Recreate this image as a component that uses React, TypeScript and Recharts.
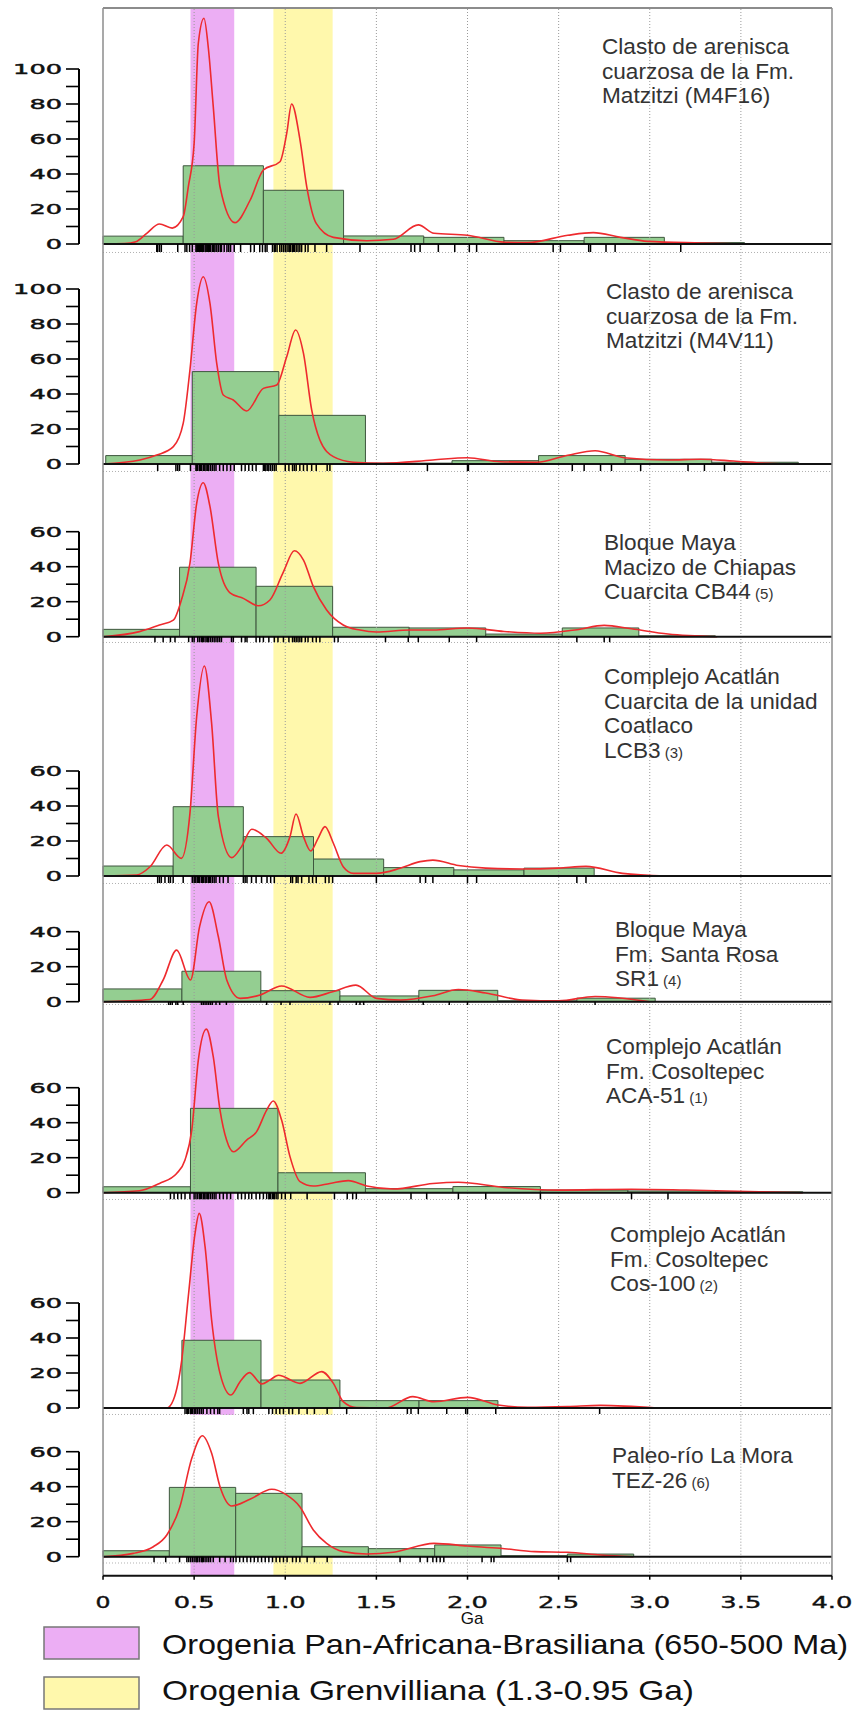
import React from "react";
import {
  ComposedChart, XAxis, YAxis, Line, Scatter, ReferenceArea, ReferenceLine,
} from "recharts";

// ---------- data (Ga / counts) ----------
const M4F16_EDGES = [0, 0.44, 0.88, 1.32, 1.76, 2.2, 2.64, 3.08, 3.52];
const M4F16_COUNTS = [4.5, 44.7, 30.7, 4.6, 3.8, 1.9, 3.8, 0.8];
const M4F16_KDE = [
  [0, 0], [0.12, 0.2], [0.18, 1.3], [0.24, 6.1], [0.31, 11.4], [0.38, 9.1], [0.44, 15.6],
  [0.468, 32.7], [0.5, 57.5], [0.523, 114.7], [0.554, 129], [0.578, 112], [0.605, 78.5],
  [0.642, 32.7], [0.724, 12.2], [0.807, 25], [0.88, 42.3], [0.971, 47], [1.008, 63.2],
  [1.035, 80], [1.081, 59.4], [1.118, 32.7], [1.17, 11.8], [1.264, 3.8], [1.447, 1.9],
  [1.593, 2.7], [1.73, 10.9], [1.816, 6.1], [2.0, 5], [2.205, 1], [2.33, 0.8], [2.55, 5],
  [2.69, 6.5], [2.84, 3.8], [2.99, 1.5], [3.28, 0.6], [3.53, 0],
];
const M4F16_AGES = [
  0.295, 0.3, 0.31, 0.32, 0.41, 0.45, 0.46, 0.475, 0.49, 0.51, 0.515, 0.52, 0.525, 0.53, 0.535,
  0.54, 0.545, 0.55, 0.56, 0.565, 0.57, 0.575, 0.58, 0.585, 0.59, 0.6, 0.605, 0.61, 0.62, 0.625,
  0.635, 0.645, 0.65, 0.665, 0.68, 0.69, 0.7, 0.72, 0.755, 0.81, 0.83, 0.86, 0.875, 0.89, 0.9,
  0.93, 0.94, 0.945, 0.955, 0.97, 0.98, 0.99, 1.0, 1.01, 1.02, 1.025, 1.03, 1.04, 1.045, 1.05,
  1.06, 1.07, 1.08, 1.09, 1.11, 1.125, 1.163, 1.227, 1.41, 1.69, 1.71, 1.74, 1.84, 1.93, 2.01,
  2.05, 2.47, 2.51, 2.665, 2.675, 2.76, 2.81, 3.17,
];

const M4V11_EDGES = [0.015, 0.49, 0.965, 1.44, 1.915, 2.39, 2.865, 3.34, 3.815];
const M4V11_COUNTS = [4.8, 52.8, 27.8, 0.5, 1.9, 4.8, 2.7, 1.0];
const M4V11_KDE = [
  [0, 0], [0.203, 2.3], [0.295, 5.1], [0.386, 9.9], [0.44, 23.2], [0.477, 53.7], [0.514, 91.8],
  [0.55, 107], [0.587, 91.8], [0.624, 57.5], [0.66, 39.4], [0.715, 36.6], [0.788, 30.3],
  [0.88, 43.2], [0.953, 45.1], [1.008, 61.3], [1.057, 76.6], [1.1, 63.2], [1.145, 30.9],
  [1.19, 13.7], [1.264, 4.2], [1.373, 1], [1.536, 0.4], [1.81, 2.3], [2.0, 3.6], [2.18, 1.3],
  [2.38, 1], [2.55, 5], [2.7, 7.6], [2.86, 3.6], [3.1, 2.3], [3.28, 2.7], [3.46, 1.7],
  [3.645, 0.4], [3.81, 0],
];
const M4V11_AGES = [
  0.3, 0.4, 0.41, 0.42, 0.48, 0.51, 0.515, 0.52, 0.53, 0.535, 0.54, 0.55, 0.555, 0.56, 0.57,
  0.575, 0.58, 0.59, 0.6, 0.61, 0.62, 0.64, 0.66, 0.68, 0.7, 0.72, 0.76, 0.78, 0.8, 0.82, 0.84,
  0.88, 0.885, 0.89, 0.9, 0.905, 0.91, 0.92, 0.93, 0.94, 0.95, 1.0, 1.02, 1.04, 1.05, 1.06,
  1.08, 1.1, 1.12, 1.145, 1.17, 1.23, 1.245, 1.78, 2.0, 2.005, 2.575, 2.64, 2.73, 2.79, 2.95,
  3.21, 3.3, 3.41,
];

const CB44_EDGES = [0, 0.42, 0.84, 1.26, 1.68, 2.1, 2.52, 2.94, 3.36];
const CB44_COUNTS = [4.2, 39.7, 28.8, 5.4, 5.0, 1.5, 5.0, 0.5];
const CB44_KDE = [
  [0, 0], [0.2, 2.9], [0.31, 6.7], [0.386, 9.5], [0.43, 21], [0.477, 41.9], [0.514, 76.2],
  [0.55, 88], [0.587, 74.3], [0.633, 41.9], [0.697, 25.1], [0.77, 21.9], [0.852, 17.7],
  [0.916, 21], [0.99, 37.1], [1.05, 49.1], [1.1, 43.8], [1.154, 28.6], [1.227, 15.3],
  [1.318, 6.7], [1.41, 3.8], [1.5, 2.7], [1.684, 3.8], [1.81, 3.8], [2.0, 5], [2.2, 3],
  [2.4, 2], [2.6, 4], [2.75, 6.5], [2.9, 4.5], [3.1, 1.5], [3.37, 0],
];
const CB44_AGES = [
  0.285, 0.33, 0.37, 0.395, 0.47, 0.49, 0.5, 0.52, 0.53, 0.54, 0.545, 0.55, 0.56, 0.57, 0.575,
  0.58, 0.59, 0.6, 0.61, 0.62, 0.63, 0.64, 0.65, 0.705, 0.715, 0.76, 0.78, 0.79, 0.84, 0.86,
  0.88, 0.91, 0.94, 0.96, 0.99, 1.02, 1.04, 1.05, 1.06, 1.07, 1.08, 1.09, 1.11, 1.125, 1.15,
  1.17, 1.19, 1.27, 1.29, 1.55, 1.675, 1.73, 1.9, 2.05, 2.6, 2.75, 2.78,
];

const LCB3_EDGES = [0, 0.385, 0.77, 1.155, 1.54, 1.925, 2.31, 2.695];
const LCB3_COUNTS = [5.7, 39.6, 22.5, 9.7, 4.8, 3.5, 4.5];
const LCB3_KDE = [
  [0, 0], [0.185, 0.6], [0.258, 5.3], [0.35, 17.7], [0.43, 10.1], [0.477, 35.8], [0.514, 91],
  [0.556, 120], [0.596, 87.2], [0.633, 33.9], [0.706, 10.5], [0.76, 16.8], [0.816, 26.7],
  [0.898, 21.5], [0.977, 13], [1.026, 22.5], [1.059, 35.4], [1.1, 22.5], [1.14, 14.3],
  [1.18, 21.5], [1.218, 28.2], [1.264, 18.7], [1.318, 5.3], [1.374, 1.5], [1.5, 1.5],
  [1.63, 4.4], [1.74, 8.2], [1.81, 9.1], [1.95, 6], [2.1, 4.5], [2.3, 4], [2.5, 4.5],
  [2.65, 5.5], [2.85, 1.5], [3.09, 0],
];
const LCB3_AGES = [
  0.3, 0.31, 0.32, 0.34, 0.36, 0.37, 0.385, 0.44, 0.49, 0.5, 0.505, 0.51, 0.52, 0.525, 0.53,
  0.54, 0.545, 0.55, 0.56, 0.565, 0.57, 0.58, 0.585, 0.59, 0.6, 0.61, 0.62, 0.64, 0.66, 0.686,
  0.77, 0.78, 0.79, 0.815, 0.84, 0.87, 0.9, 0.92, 0.94, 1.03, 1.04, 1.06, 1.07, 1.09, 1.13,
  1.15, 1.17, 1.22, 1.24, 1.26, 1.5, 1.74, 1.77, 1.81, 2.0, 2.05, 2.6, 2.65,
];

const SR1_EDGES = [0, 0.433, 0.866, 1.3, 1.733, 2.166, 2.6, 3.03];
const SR1_COUNTS = [7.3, 17.4, 6.3, 3.3, 6.5, 0.5, 2];
const SR1_KDE = [
  [0, 0], [0.258, 1.3], [0.33, 12.4], [0.404, 29.5], [0.48, 12.4], [0.53, 42.9], [0.582, 57.1],
  [0.633, 37.1], [0.679, 12.4], [0.752, 1.9], [0.862, 3.8], [0.98, 9], [1.136, 2.5],
  [1.26, 5.7], [1.388, 9.5], [1.5, 1.9], [1.63, 1], [1.81, 3.4], [1.95, 7], [2.1, 5],
  [2.3, 1], [2.5, 0.5], [2.7, 3], [3.0, 0],
];
const SR1_AGES = [
  0.36, 0.37, 0.38, 0.4, 0.41, 0.44, 0.54, 0.55, 0.56, 0.57, 0.58, 0.59, 0.6, 0.62, 0.64,
  0.677, 0.898, 0.977, 1.026, 1.245, 1.29, 1.39, 1.41, 1.43, 1.757, 1.9, 2.0, 2.7,
];

const ACA51_EDGES = [0, 0.48, 0.96, 1.44, 1.92, 2.4, 2.88, 3.36, 3.84];
const ACA51_COUNTS = [3.4, 48.2, 11.4, 2.3, 3.5, 1.5, 1, 0.5];
const ACA51_KDE = [
  [0, 0], [0.2, 1.1], [0.31, 5.3], [0.404, 11], [0.45, 18.7], [0.487, 35.8], [0.523, 75.8],
  [0.567, 93.5], [0.605, 77.7], [0.642, 47.2], [0.678, 30.1], [0.715, 23.4], [0.788, 30.1],
  [0.843, 34.9], [0.898, 47.2], [0.934, 52.4], [0.98, 41.5], [1.026, 20.6], [1.081, 6.3],
  [1.154, 3.8], [1.245, 5.3], [1.346, 6.9], [1.447, 3.8], [1.593, 2.1], [1.81, 5.3],
  [1.95, 6], [2.2, 3], [2.5, 1.5], [2.9, 2], [3.2, 1.5], [3.6, 0.5], [3.84, 0],
];
const ACA51_AGES = [
  0.37, 0.39, 0.41, 0.43, 0.45, 0.477, 0.5, 0.51, 0.52, 0.53, 0.535, 0.54, 0.55, 0.555, 0.56,
  0.57, 0.575, 0.58, 0.59, 0.6, 0.61, 0.62, 0.64, 0.66, 0.68, 0.7, 0.74, 0.76, 0.78, 0.8,
  0.816, 0.84, 0.86, 0.88, 0.898, 0.91, 0.915, 0.92, 0.93, 0.935, 0.94, 0.95, 0.96, 0.98, 1.0,
  1.03, 1.12, 1.27, 1.34, 1.37, 1.39, 1.69, 1.776, 1.95, 2.1, 2.4, 2.9, 3.1,
];

const COS100_EDGES = [0.433, 0.867, 1.3, 1.734, 2.167];
const COS100_COUNTS = [38.7, 16, 4.2, 4.2];
const COS100_KDE = [
  [0, 0], [0.35, 0], [0.386, 4.6], [0.432, 27.4], [0.468, 63.6], [0.505, 99.8], [0.528, 111.2],
  [0.56, 92.2], [0.596, 50.3], [0.642, 19.8], [0.702, 7.4], [0.752, 15], [0.803, 20.2],
  [0.871, 13.7], [0.916, 16], [0.962, 18.7], [1.081, 14.1], [1.2, 20.8], [1.264, 14.1],
  [1.318, 3.6], [1.39, 0.2], [1.55, 0], [1.7, 6.5], [1.816, 3.6], [2.0, 6.1], [2.167, 1.7],
  [2.33, 0.4], [2.55, 0.8], [2.73, 1.5], [3.04, 0],
];
const COS100_AGES = [
  0.45, 0.46, 0.465, 0.47, 0.48, 0.485, 0.49, 0.5, 0.505, 0.51, 0.52, 0.53, 0.54, 0.55, 0.57,
  0.59, 0.61, 0.63, 0.64, 0.77, 0.79, 0.8, 0.825, 0.91, 0.93, 0.95, 0.97, 0.99, 1.02, 1.04,
  1.075, 1.12, 1.16, 1.23, 1.337, 1.67, 1.69, 1.73, 1.886, 1.99, 2.0, 2.155, 2.725,
];

const TEZ26_EDGES = [0, 0.364, 0.728, 1.092, 1.456, 1.82, 2.184, 2.548, 2.912];
const TEZ26_COUNTS = [3.4, 39.6, 36.2, 5.7, 4.6, 6.7, 0.6, 1.5];
const TEZ26_KDE = [
  [0, 0], [0.166, 1.9], [0.276, 5.7], [0.35, 12.4], [0.422, 28.6], [0.487, 56.2], [0.545, 69.1],
  [0.596, 59.1], [0.642, 40], [0.706, 29], [0.806, 32.8], [0.926, 38.5], [1.007, 35.3],
  [1.08, 28.6], [1.154, 15.3], [1.227, 7.6], [1.318, 2.9], [1.447, 1.5], [1.593, 2.5],
  [1.816, 7.6], [2.0, 6.1], [2.18, 4.8], [2.37, 2.9], [2.55, 2.5], [2.73, 1], [2.91, 0],
];
const TEZ26_AGES = [
  0.28, 0.344, 0.42, 0.46, 0.47, 0.48, 0.49, 0.5, 0.51, 0.515, 0.52, 0.53, 0.54, 0.545, 0.55,
  0.56, 0.57, 0.58, 0.59, 0.605, 0.64, 0.67, 0.7, 0.715, 0.73, 0.75, 0.77, 0.79, 0.81, 0.83,
  0.85, 0.87, 0.89, 0.91, 0.93, 0.95, 0.97, 0.99, 1.01, 1.04, 1.06, 1.08, 1.12, 1.16, 1.23,
  1.63, 1.74, 1.78, 1.81, 1.83, 1.85, 1.87, 2.08, 2.13, 2.145, 2.548, 2.566,
];

const X_TICKS = [0, 0.5, 1, 1.5, 2, 2.5, 3, 3.5, 4];
const X_TICK_LABELS = ["0", "0.5", "1.0", "1.5", "2.0", "2.5", "3.0", "3.5", "4.0"];
const GRID_X = [0.5, 1, 1.5, 2, 2.5, 3, 3.5];
const PAN_AFRICAN = [0.48, 0.72];
const GRENVILLE = [0.935, 1.26];
const LEGEND_LABELS = [
  "Orogenia Pan-Africana-Brasiliana (650-500 Ma)",
  "Orogenia Grenvilliana (1.3-0.95 Ga)",
];

// ---------- layout ----------
const W = 868;
const PLOT_RIGHT = 832;
const Y_AXIS_W = 79;
const PX_PER_COUNT = 1.75;
const X_MIN = -0.1317;
const X_MAX = 4;
const AXIS_H = 40;

const PINK = "#ECAEF4";
const YELLOW = "#FFF8AC";
const GREEN = "#94CE91";
const RED = "#EE2A2E";
const SANS = "Liberation Sans, Arial, sans-serif";

const PANELS = [
  { edges: M4F16_EDGES, counts: M4F16_COUNTS, kde: M4F16_KDE, ages: M4F16_AGES, maxTick: 100,
    top: 8, base: 244, bottom: 253, rug: 8, lines: ["Clasto de arenisca", "cuarzosa de la Fm.", "Matzitzi (M4F16)"], sub: "", lx: 602, ly: 54 },
  { edges: M4V11_EDGES, counts: M4V11_COUNTS, kde: M4V11_KDE, ages: M4V11_AGES, maxTick: 100,
    top: 253, base: 464, bottom: 472, rug: 7, lines: ["Clasto de arenisca", "cuarzosa de la Fm.", "Matzitzi (M4V11)"], sub: "", lx: 606, ly: 299 },
  { edges: CB44_EDGES, counts: CB44_COUNTS, kde: CB44_KDE, ages: CB44_AGES, maxTick: 60,
    top: 472, base: 636.7, bottom: 643, rug: 5.5, lines: ["Bloque Maya", "Macizo de Chiapas", "Cuarcita CB44"], sub: "(5)", lx: 604, ly: 550 },
  { edges: LCB3_EDGES, counts: LCB3_COUNTS, kde: LCB3_KDE, ages: LCB3_AGES, maxTick: 60,
    top: 643, base: 876, bottom: 884, rug: 7, lines: ["Complejo Acatlán", "Cuarcita de la unidad", "Coatlaco", "LCB3"], sub: "(3)", lx: 604, ly: 684 },
  { edges: SR1_EDGES, counts: SR1_COUNTS, kde: SR1_KDE, ages: SR1_AGES, maxTick: 40,
    top: 884, base: 1001.7, bottom: 1005, rug: 3.5, lines: ["Bloque Maya", "Fm. Santa Rosa", "SR1"], sub: "(4)", lx: 615, ly: 937 },
  { edges: ACA51_EDGES, counts: ACA51_COUNTS, kde: ACA51_KDE, ages: ACA51_AGES, maxTick: 60,
    top: 1005, base: 1192.7, bottom: 1200, rug: 6.5, lines: ["Complejo Acatlán", "Fm. Cosoltepec", "ACA-51"], sub: "(1)", lx: 606, ly: 1054 },
  { edges: COS100_EDGES, counts: COS100_COUNTS, kde: COS100_KDE, ages: COS100_AGES, maxTick: 60,
    top: 1200, base: 1408, bottom: 1415, rug: 6, lines: ["Complejo Acatlán", "Fm. Cosoltepec", "Cos-100"], sub: "(2)", lx: 610, ly: 1242 },
  { edges: TEZ26_EDGES, counts: TEZ26_COUNTS, kde: TEZ26_KDE, ages: TEZ26_AGES, maxTick: 60,
    top: 1415, base: 1556.7, bottom: 1575.7, rug: 5.5, lines: ["Paleo-río La Mora", "TEZ-26"], sub: "(6)", lx: 612, ly: 1463 },
];

function YTick(props: any) {
  const { x, y, payload } = props;
  if (payload.value % 20 !== 0) return <g />;
  const s = String(payload.value);
  return (
    <text x={x} y={y + 5} textAnchor="end" fontFamily="DejaVu Sans" fontSize={14} fill="#111"
      stroke="#111" strokeWidth={0.45}
      textLength={s.length * 16.3} lengthAdjust="spacingAndGlyphs">{s}</text>
  );
}

function XTick(props: any) {
  const { x, y, index } = props;
  const s = X_TICK_LABELS[index] ?? "";
  return (
    <text x={x} y={y + 26.5} textAnchor="middle" fontFamily="DejaVu Sans" fontSize={15} fill="#111"
      stroke="#111" strokeWidth={0.35}
      textLength={s.length === 1 ? 15 : 41} lengthAdjust="spacingAndGlyphs">{s}</text>
  );
}

function Panel({ p, last }: { p: any; last: boolean }) {
  const plotH = p.bottom - p.top;
  const yMin = -(p.bottom - p.base) / PX_PER_COUNT;
  const yMax = (p.base - p.top) / PX_PER_COUNT;
  const yTicks: number[] = [];
  for (let v = 0; v <= p.maxTick; v += 10) yTicks.push(v);
  const kde = p.kde.map(([x, y]: number[]) => ({ x, y }));
  const rug = p.ages.map((a: number) => ({ x: a, y: 0 }));
  const sepY = last ? -(1563 - p.base) / PX_PER_COUNT : yMin + 0.3;
  const rugLen = p.rug;

  return (
    <div style={{ position: "absolute", left: 0, top: p.top }}>
      <ComposedChart width={W} height={plotH + (last ? AXIS_H : 0)}
        margin={{ top: 0, right: W - PLOT_RIGHT, bottom: 0, left: 0 }}>
        <XAxis type="number" dataKey="x" domain={[X_MIN, X_MAX]} allowDataOverflow ticks={X_TICKS}
          interval={0} hide={!last} height={AXIS_H} axisLine={false} tickSize={4}
          tickLine={{ stroke: "#000", strokeWidth: 1.5 }} tick={<XTick />} />
        <YAxis type="number" dataKey="y" domain={[yMin, yMax]} allowDataOverflow ticks={yTicks}
          interval={0} width={Y_AXIS_W} axisLine={false} tickSize={13} tickMargin={4}
          tickLine={{ stroke: "#000", strokeWidth: 1.6 }} tick={<YTick />} />

        <ReferenceArea x1={PAN_AFRICAN[0]} x2={PAN_AFRICAN[1]} y1={last ? 0 : undefined}
          fill={PINK} fillOpacity={1} stroke="none" ifOverflow="hidden" />
        <ReferenceArea x1={GRENVILLE[0]} x2={GRENVILLE[1]} y1={last ? 0 : undefined}
          fill={YELLOW} fillOpacity={1} stroke="none" ifOverflow="hidden" />

        {GRID_X.map((g) => (
          <ReferenceLine key={g} x={g} stroke="#9a9a9a" strokeDasharray="1 2" strokeWidth={1} />
        ))}
        <ReferenceLine segment={[{ x: 0, y: sepY }, { x: X_MAX, y: sepY }]}
          stroke="#b0b0b0" strokeDasharray="1 2" ifOverflow="visible" />

        {p.counts.map((c: number, i: number) => (
          <ReferenceArea key={i} x1={p.edges[i]} x2={p.edges[i + 1]} y1={0} y2={c}
            fill={GREEN} fillOpacity={1} stroke="#3e563e" strokeWidth={1} ifOverflow="visible" />
        ))}

        <Line data={kde} dataKey="y" type="monotone" stroke={RED} strokeWidth={1.6} dot={false}
          activeDot={false} isAnimationActive={false} />

        <ReferenceLine segment={[{ x: 0, y: 0 }, { x: X_MAX, y: 0 }]} stroke="#111" strokeWidth={2}
          ifOverflow="visible" />
        <ReferenceLine segment={[{ x: X_MIN, y: 0 }, { x: X_MIN, y: p.maxTick }]} stroke="#000"
          strokeWidth={2} ifOverflow="visible" />
        <ReferenceLine x={0} stroke="#8c8c8c" strokeWidth={1.5} />
        <ReferenceLine x={X_MAX} stroke="#8c8c8c" strokeWidth={1.5} />
        {p.top === 8 && (
          <ReferenceLine segment={[{ x: 0, y: yMax }, { x: X_MAX, y: yMax }]} stroke="#8c8c8c"
            strokeWidth={2} ifOverflow="visible" />
        )}
        {last && (
          <ReferenceLine segment={[{ x: 0, y: yMin }, { x: X_MAX, y: yMin }]} stroke="#111"
            strokeWidth={2} ifOverflow="visible" />
        )}

        <Scatter data={rug} dataKey="y" isAnimationActive={false}
          shape={(s: any) => (
            <line x1={s.cx} y1={s.cy} x2={s.cx} y2={s.cy + rugLen} stroke="#000" strokeWidth={1.5} />
          )} />
      </ComposedChart>
    </div>
  );
}

export default function App() {
  return (
    <div style={{ position: "absolute", left: 0, top: 0, width: W, height: 1711, background: "#fff" }}>
      <style>{`.recharts-surface { overflow: visible; }`}</style>
      {PANELS.map((p, i) => (
        <Panel key={i} p={p} last={i === PANELS.length - 1} />
      ))}
      <svg width={W} height={1711} style={{ position: "absolute", left: 0, top: 0, pointerEvents: "none" }}>
        {PANELS.map((p, i) => (
          <text key={i} fontFamily={SANS} fontSize={22.6} fill="#333">
            {p.lines.map((ln: string, j: number) => (
              <tspan key={j} x={p.lx} y={p.ly + j * 24.5}>
                {ln}
                {j === p.lines.length - 1 && p.sub ? <tspan fontSize={15}>{" " + p.sub}</tspan> : null}
              </tspan>
            ))}
          </text>
        ))}
        <text x={472} y={1624} textAnchor="middle" fontFamily={SANS} fontSize={17} fill="#111">Ga</text>
        <rect x={44} y={1627} width={95} height={32} fill={PINK} stroke="#777" strokeWidth={1.5} />
        <rect x={44} y={1677} width={95} height={32} fill={YELLOW} stroke="#777" strokeWidth={1.5} />
        <text x={162} y={1654} fontFamily={SANS} fontSize={28} fill="#111"
          textLength={686} lengthAdjust="spacingAndGlyphs">{LEGEND_LABELS[0]}</text>
        <text x={162} y={1700} fontFamily={SANS} fontSize={28} fill="#111"
          textLength={532} lengthAdjust="spacingAndGlyphs">{LEGEND_LABELS[1]}</text>
      </svg>
    </div>
  );
}
